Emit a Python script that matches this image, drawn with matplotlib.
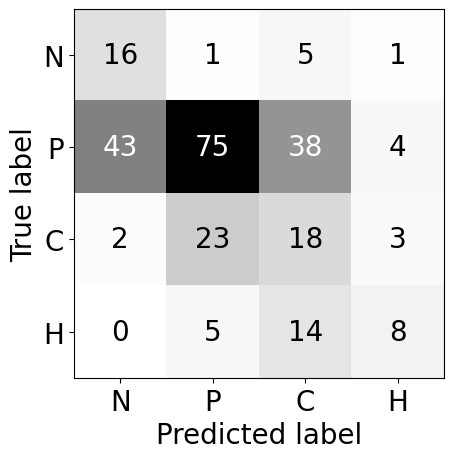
import matplotlib
matplotlib.use("Agg")
import matplotlib.pyplot as plt
import numpy as np

labels = ["N", "P", "C", "H"]
row_N = [16, 1, 5, 1]
row_P = [43, 75, 38, 4]
row_C = [2, 23, 18, 3]
row_H = [0, 5, 14, 8]
cm = np.array([row_N, row_P, row_C, row_H])

plt.rcParams['font.size'] = 20
fig = plt.figure(figsize=(4.53, 4.60), dpi=100)
ax = fig.add_axes([74/453, 81/460, 370/453, 369.5/460])
cmap = plt.get_cmap("Greys")
ax.imshow(cm, cmap=cmap, interpolation="nearest", aspect="auto")
thresh = (cm.max() + cm.min()) / 2.0
for i in range(cm.shape[0]):
    for j in range(cm.shape[1]):
        color = "white" if cm[i, j] > thresh else "black"
        ax.text(j, i, str(cm[i, j]), ha="center", va="center", color=color, fontsize=20)
ax.set_xticks(range(4))
ax.set_xticklabels(labels)
ax.set_yticks(range(4))
ax.set_yticklabels(labels)
ax.set_xlabel("Predicted label", fontsize=20)
ax.set_ylabel("True label", fontsize=20)
ax.tick_params(labelsize=20)
fig.savefig("out.png", dpi=100)
